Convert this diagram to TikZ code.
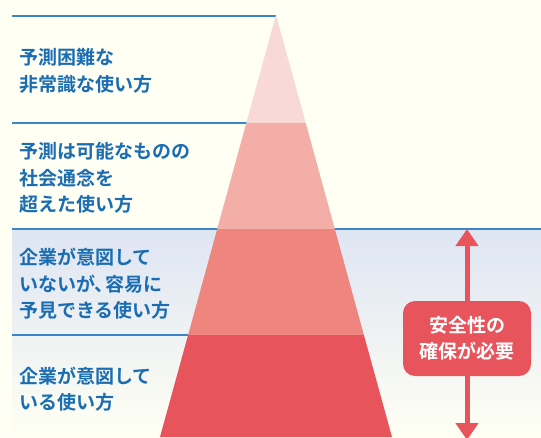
\documentclass[tikz,border=0pt]{standalone}
\usepackage{fontspec}
\setmainfont{Noto Sans CJK JP}[BoldFont={Noto Sans CJK JP Bold}]
\usetikzlibrary{arrows.meta}
\definecolor{bgcream}{HTML}{FFFFF3}
\definecolor{bandblue}{HTML}{DEE5F3}
\definecolor{lineblue}{HTML}{3A86C8}
\definecolor{txtblue}{HTML}{1A6DB3}
\definecolor{rA}{HTML}{F9D9D5}
\definecolor{rB}{HTML}{F4AEA8}
\definecolor{rC}{HTML}{EE857F}
\definecolor{rD}{HTML}{E8545C}
\tikzset{
  lvl/.style={anchor=west, align=left, text=txtblue, inner sep=0pt,
    font=\fontsize{19pt}{26.5pt}\selectfont\bfseries},
  sep/.style={draw=lineblue, line width=1.2pt},
  safelabel/.style={fill=rD, rounded corners=12pt, text=white, align=center,
    minimum width=128pt, minimum height=75pt, inner sep=0pt,
    font=\fontsize{19pt}{26pt}\selectfont\bfseries},
  safearrow/.style={draw=rD, line width=5pt, -{Triangle[width=22pt,length=17pt]}}
}
\begin{document}
\begin{tikzpicture}[x=1pt,y=-1pt]
\useasboundingbox (0,0) rectangle (541,437);
\fill[bgcream] (0,0) rectangle (541,437);
\shade[top color=bandblue, bottom color=bgcream] (12,229) rectangle (541,437);
% separators
\draw[sep] (12,16) -- (276,16);
\draw[sep] (12,123) -- (250,123);
\draw[sep] (12,229) -- (541,229);
\draw[sep] (12,335) -- (200,335);
% pyramid bands
\fill[rA] (276,15) -- (246.3,123) -- (305.7,123) -- cycle;
\fill[rB] (246.3,123) -- (217.2,229) -- (334.8,229) -- (305.7,123) -- cycle;
\fill[rC] (217.2,229) -- (188.1,335) -- (363.9,335) -- (334.8,229) -- cycle;
\fill[rD] (188.1,335) -- (160,437) -- (392,437) -- (363.9,335) -- cycle;
% texts
\node[lvl] (t1) at (19,71) {予測困難な\\非常識な使い方};
\node[lvl] (t2) at (19,178) {予測は可能なものの\\社会通念を\\超えた使い方};
\node[lvl] (t3) at (19,284) {企業が意図して\\いないが、\kern-8pt 容易に\\予見できる使い方};
\node[lvl] (t4) at (19,389) {企業が意図して\\いる使い方};
% safety label and arrow
\coordinate (atop) at (467,229);
\coordinate (abot) at (467,440);
\node[safelabel] (safe) at (467,338.5) {安全性の\\確保が必要};
\draw[safearrow] (safe.north) -- (atop);
\draw[safearrow] (safe.south) -- (abot);
\end{tikzpicture}
\end{document}
